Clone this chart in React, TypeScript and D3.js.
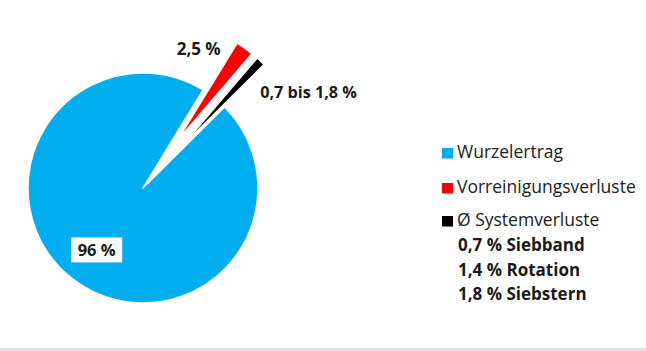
import React from 'react';
import * as d3 from 'd3';

// slice data
const categories = ['Wurzelertrag', 'Vorreinigungsverluste', 'Ø Systemverluste'];
const values = [96, 2.5, 1.3];
const colors = ['#00aeef', '#ff0000', '#000000'];
const sliceLabels = ['96 %', '2,5 %', '0,7 bis 1,8 %'];
const exploded = [false, true, true];
const systemDetails = ['0,7 % Siebband', '1,4 % Rotation', '1,8 % Siebstern'];

const W = 646;
const H = 351;
const cx = 143;
const cy = 188;
const radius = 115;
const explode = 58;
const startDeg = 45.2;

const polar = (angle: number, r: number) => [cx + r * Math.sin(angle), cy - r * Math.cos(angle)];

const App = () => {
  const pie = d3.pie<number>()
    .sort(null)
    .value(d => d)
    .startAngle((startDeg * Math.PI) / 180)
    .endAngle((startDeg * Math.PI) / 180 + 2 * Math.PI);
  const arcs = pie(values);
  const arcGen = d3.arc<d3.PieArcDatum<number>>().innerRadius(0).outerRadius(radius);

  const labelFont = '"Open Sans", sans-serif';
  const legendBase = [158, 193, 226];

  return (
    <svg width={W} height={H} style={{ position: 'absolute', left: 0, top: 0, background: '#fff' }}>
      <rect x={0} y={348} width={W} height={3} fill="#dedede" />
      {arcs.map((a, i) => {
        const mid = (a.startAngle + a.endAngle) / 2;
        const dx = exploded[i] ? explode * Math.sin(mid) : 0;
        const dy = exploded[i] ? -explode * Math.cos(mid) : 0;
        return (
          <path
            key={categories[i]}
            d={arcGen(a) || ''}
            transform={`translate(${cx + dx},${cy + dy})`}
            fill={colors[i]}
            stroke="#fff"
            strokeWidth={1.5}
            strokeLinejoin="round"
          />
        );
      })}
      {arcs.map((a, i) => {
        const mid = (a.startAngle + a.endAngle) / 2;
        if (i === 0) {
          const [x, y] = polar(mid, radius * 0.67);
          return (
            <g key={'lbl' + i}>
              <rect x={x - 24} y={y - 11} width={51} height={25} fill="#fff" />
              <text x={x + 1.5} y={y + 7.5} textAnchor="middle" fontFamily={labelFont} fontWeight={700}
                fontSize={16.5} fill="#1a1a1a">{sliceLabels[i]}</text>
            </g>
          );
        }
        const [x, y] = polar(mid, radius + explode);
        if (i === 1) {
          return (
            <text key={'lbl' + i} x={x - 24} y={y + 7} textAnchor="end" fontFamily={labelFont}
              fontWeight={700} fontSize={17} fill="#1a1a1a">{sliceLabels[i]}</text>
          );
        }
        return (
          <text key={'lbl' + i} x={x - 0.5} y={y + 37} fontFamily={labelFont}
            fontWeight={700} fontSize={16.2} fill="#1a1a1a">{sliceLabels[i]}</text>
        );
      })}
      {/* legend */}
      {categories.map((c, i) => (
        <g key={c}>
          <rect x={442} y={legendBase[i] - 10} width={11} height={10.5} fill={colors[i]} />
          <text x={457} y={legendBase[i]} fontFamily={labelFont} fontSize={17.5} fill="#222">{c}</text>
        </g>
      ))}
      {systemDetails.map((t, i) => (
        <text key={t} x={458} y={251 + i * 24.5} fontFamily={labelFont} fontWeight={700}
          fontSize={17} fill="#1a1a1a">{t}</text>
      ))}
    </svg>
  );
};

export default App;
